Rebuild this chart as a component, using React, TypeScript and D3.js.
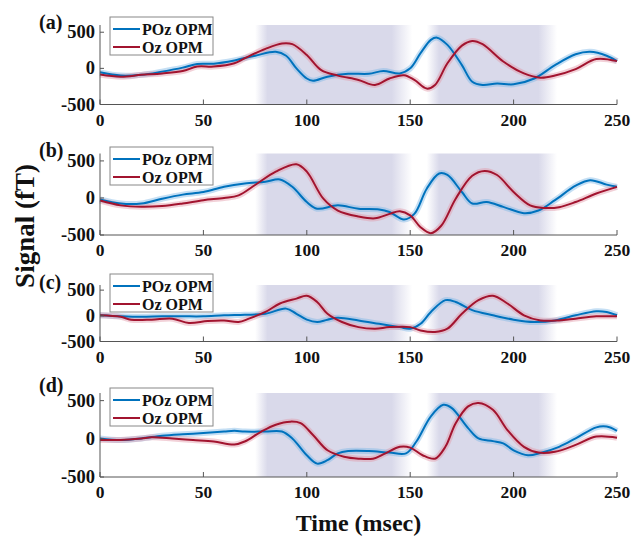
import React from "react";
import * as d3 from "d3";

// ---------- data ----------
const TIME_TICKS = [0, 50, 100, 150, 200, 250];
const SIGNAL_TICKS = [-500, 0, 500];
const SERIES_NAMES = ["POz OPM", "Oz OPM"];
const PANEL_LABELS = ["(a)", "(b)", "(c)", "(d)"];
const X_LABEL = "Time (msec)";
const Y_LABEL = "Signal (fT)";
// shaded windows: [fade-in start, solid start, solid end, fade-out end] in msec
const WINDOWS: [number, number, number, number][] = [
  [75, 81, 141, 151],
  [158, 164, 212, 221],
];

type P = [number, number];
const A_POZ: P[] = [[0,-55],[10,-100],[20,-90],[30,-45],[40,10],[47,60],[55,65],[65,110],[75,175],[85,230],[90,175],[95,0],[100,-140],[103,-170],[110,-115],[120,-75],[130,-75],[137,-37],[145,-70],[150,0],[155,210],[160,395],[163,425],[168,325],[175,45],[180,-185],[185,-230],[192,-210],[200,-220],[210,-140],[220,45],[230,195],[237,230],[245,175],[250,100]];
const A_OZ: P[] = [[0,-85],[10,-115],[20,-90],[30,-70],[40,-37],[47,25],[55,25],[65,70],[70,140],[80,270],[88,345],[93,335],[100,185],[107,-25],[115,-100],[125,-160],[133,-230],[140,-140],[147,-95],[152,-160],[158,-280],[162,-230],[168,70],[175,315],[180,380],[185,335],[195,95],[205,-70],[213,-130],[220,-100],[230,-10],[240,130],[250,100]];
const B_POZ: P[] = [[0,-20],[10,-75],[20,-75],[30,-10],[40,45],[50,80],[60,150],[70,195],[80,220],[87,250],[93,150],[100,-55],[105,-145],[115,-100],[125,-145],[135,-155],[140,-190],[147,-290],[152,-215],[158,125],[164,330],[168,310],[175,80],[180,-75],[187,-55],[195,-120],[205,-205],[212,-170],[220,-30],[230,165],[237,240],[245,180],[250,150]];
const B_OZ: P[] = [[0,-35],[10,-100],[20,-120],[30,-110],[40,-75],[50,-30],[60,0],[67,35],[75,175],[85,355],[95,455],[100,355],[108,-10],[115,-170],[125,-250],[133,-275],[140,-215],[145,-180],[150,-235],[155,-395],[160,-475],[165,-375],[172,-10],[180,300],[186,365],[192,310],[200,80],[208,-100],[215,-135],[222,-125],[230,-55],[240,60],[250,150]];
const C_POZ: P[] = [[0,10],[10,-10],[20,-20],[30,-10],[40,-10],[50,-10],[60,10],[70,20],[80,40],[90,140],[95,40],[100,-75],[105,-120],[110,-75],[115,-40],[125,-90],[135,-155],[145,-220],[150,-250],[155,-155],[160,75],[167,305],[172,270],[180,110],[190,10],[200,-75],[210,-120],[220,-90],[230,10],[240,90],[245,75],[250,10]];
const C_OZ: P[] = [[0,10],[10,-20],[15,-75],[25,-75],[35,-55],[43,-140],[52,-100],[60,-90],[67,-120],[72,-55],[80,75],[87,240],[95,335],[100,390],[105,270],[110,40],[117,-120],[125,-220],[133,-250],[140,-220],[150,-220],[155,-285],[162,-315],[168,-250],[175,40],[183,305],[190,390],[197,240],[205,10],[213,-90],[222,-90],[230,-55],[240,-10],[250,-10]];
const D_POZ: P[] = [[0,5],[10,-15],[20,5],[30,40],[40,60],[50,75],[60,95],[65,105],[70,95],[80,95],[88,95],[93,5],[100,-215],[105,-325],[110,-280],[115,-190],[120,-160],[130,-160],[140,-180],[148,-190],[153,-35],[160,295],[166,445],[170,405],[178,140],[183,5],[190,-30],[195,-60],[200,-150],[207,-215],[213,-185],[222,-105],[230,5],[240,150],[245,160],[250,105]];
const D_OZ: P[] = [[0,-15],[10,-15],[20,5],[25,20],[35,5],[45,-15],[55,-35],[65,-75],[70,-35],[78,95],[85,185],[92,225],[97,205],[103,50],[110,-150],[118,-235],[125,-260],[132,-260],[138,-190],[145,-105],[150,-115],[156,-215],[162,-260],[167,-105],[172,205],[178,425],[183,470],[190,380],[197,115],[205,-105],[212,-180],[220,-170],[230,-80],[240,30],[250,15]];
const PANEL_DATA: [P[], P[]][] = [
  [A_POZ, A_OZ],
  [B_POZ, B_OZ],
  [C_POZ, C_OZ],
  [D_POZ, D_OZ],
];

// ---------- layout ----------
const W = 631, H = 537;
const X0 = 100, X1 = 617;
const PANELS = [
  { top: 25, bottom: 104.5, legendTop: 17, labelY: 29 },
  { top: 153.5, bottom: 235, legendTop: 147, labelY: 157 },
  { top: 285, bottom: 341.5, legendTop: 274, labelY: 289 },
  { top: 393, bottom: 477, legendTop: 388, labelY: 392 },
];
const COLORS = ["#0072BD", "#A2142F"];
const HALO = ["#7fb8e6", "#e29aa8"];
const SHADE = "#d9d9ea";
const AXIS = "#555";
const FONT = "'Liberation Serif', 'Times New Roman', serif";

const x = d3.scaleLinear().domain([0, 250]).range([X0, X1]);

export default function App() {
  return (
    <svg width={W} height={H} style={{ position: "absolute", left: 0, top: 0, background: "#fff" }} fontFamily={FONT} fontWeight="bold">
      <defs>
        {WINDOWS.map((w, i) => {
          const span = w[3] - w[0];
          return (
            <linearGradient key={i} id={`shade${i}`} x1="0" x2="1" y1="0" y2="0">
              <stop offset="0" stopColor={SHADE} stopOpacity={0} />
              <stop offset={(w[1] - w[0]) / span} stopColor={SHADE} stopOpacity={1} />
              <stop offset={(w[2] - w[0]) / span} stopColor={SHADE} stopOpacity={1} />
              <stop offset="1" stopColor={SHADE} stopOpacity={0} />
            </linearGradient>
          );
        })}
      </defs>
      {PANELS.map((p, pi) => {
        const y = d3.scaleLinear().domain([-500, 600]).range([p.bottom, p.top]);
        const line = d3
          .line<P>()
          .x((d) => x(d[0]))
          .y((d) => y(d[1]))
          .curve(d3.curveCatmullRom.alpha(0.5));
        const series = PANEL_DATA[pi];
        return (
          <g key={pi}>
            {WINDOWS.map((w, i) => (
              <rect key={i} x={x(w[0])} y={p.top} width={x(w[3]) - x(w[0])} height={p.bottom - p.top} fill={`url(#shade${i})`} />
            ))}
            {series.map((s, si) => (
              <path key={"h" + si} d={line(s) || ""} fill="none" stroke={HALO[si]} strokeWidth={6} strokeOpacity={0.45} strokeLinejoin="round" />
            ))}
            {series.map((s, si) => (
              <path key={"l" + si} d={line(s) || ""} fill="none" stroke={COLORS[si]} strokeWidth={2} strokeLinejoin="round" />
            ))}
            {/* axes */}
            <line x1={X0} x2={X0} y1={p.top} y2={p.bottom} stroke={AXIS} strokeWidth={1} />
            <line x1={X0} x2={X1} y1={p.bottom} y2={p.bottom} stroke={AXIS} strokeWidth={1} />
            {TIME_TICKS.map((t) => (
              <g key={t}>
                <line x1={x(t)} x2={x(t)} y1={p.bottom} y2={p.bottom - 5} stroke={AXIS} />
                <text x={x(t)} y={p.bottom + 21} textAnchor="middle" fontSize={17.5} fill="#111">{t}</text>
              </g>
            ))}
            {SIGNAL_TICKS.map((v) => (
              <g key={v}>
                <line x1={X0} x2={X0 + 4} y1={y(v)} y2={y(v)} stroke={AXIS} />
                <text x={X0 - 5} y={y(v) + 6} textAnchor="end" fontSize={18.5} fill="#111">{v}</text>
              </g>
            ))}
            <text x={39} y={p.labelY} fontSize={20} fill="#111">{PANEL_LABELS[pi]}</text>
            {/* legend */}
            <g transform={`translate(110,${p.legendTop})`}>
              <rect x={0} y={0} width={103} height={38} fill="#fff" stroke="#888" strokeWidth={1} />
              {SERIES_NAMES.map((n, si) => (
                <g key={n} transform={`translate(0,${12 + si * 18})`}>
                  <line x1={3} x2={30} y1={0} y2={0} stroke={COLORS[si]} strokeWidth={2} />
                  <text x={32} y={5.5} fontSize={16} fill="#111">{n}</text>
                </g>
              ))}
            </g>
          </g>
        );
      })}
      <text x={(X0 + X1) / 2} y={531} textAnchor="middle" fontSize={24} fill="#111">{X_LABEL}</text>
      <text transform="translate(34,226) rotate(-90)" textAnchor="middle" fontSize={27} fill="#111">{Y_LABEL}</text>
    </svg>
  );
}
